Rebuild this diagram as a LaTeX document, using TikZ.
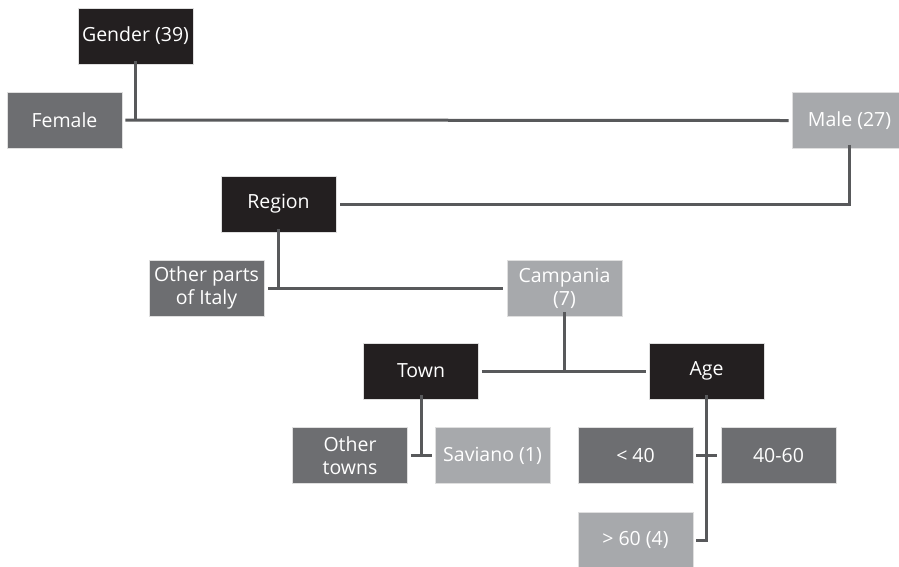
\documentclass[tikz,border=0pt]{standalone}
\usepackage{fontspec}
\setmainfont{Open Sans}
\definecolor{boxdark}{HTML}{231F20}
\definecolor{boxmid}{HTML}{6D6E71}
\definecolor{boxlight}{HTML}{A7A9AC}
\definecolor{linkgray}{HTML}{58595B}
\begin{document}
\begin{tikzpicture}[x=1pt, y=-1pt,
  box/.style={minimum width=115pt, minimum height=56pt, inner sep=0pt, align=center,
    text=white, draw=white!75!gray, line width=0.6pt,
    font=\fontsize{19.5}{23}\selectfont},
  dark/.style={box, fill=boxdark},
  mid/.style={box, fill=boxmid},
  light/.style={box, fill=boxlight},
  conn/.style={draw=linkgray, line width=3pt}]
\useasboundingbox (0,0) rectangle (899,566);

% Define the boxes
\node[dark]  (gender)  at (135.5,36)  {Gender (39)};
\node[mid]   (female)  at (64.5,120)  {Female};
\node[light] (male)    at (849.5,120.5) {Male (27)};
\node[dark]  (region)  at (278.5,204) {Region};
\node[mid]   (italy)   at (206.5,288) {Other parts\\of Italy};
\node[light] (campania) at (564.5,288) {Campania\\(7)};
\node[dark]  (town)    at (421,371)   {Town};
\node[dark]  (age)     at (706.5,371) {Age};
\node[mid]   (towns)   at (350,455.5) {Other\\towns};
\node[light] (saviano) at (492.5,455.5) {Saviano (1)};
\node[mid]   (young)   at (635.5,455.5) {< 40};
\node[mid]   (middle)  at (778.5,455.5) {40-60};
\node[light] (old)     at (635.5,540) {> 60 (4)};

% Draw the links of gender
\draw[conn] ([yshift=3pt]gender.south) -- (gender.south |- female.east);
\draw[conn] ([xshift=3pt]female.east) -- ([xshift=-3pt]male.west);

% Draw the links of region
\draw[conn] ([yshift=4pt]male.south) |- ([xshift=4pt]region.east);
\draw[conn] ([yshift=3pt]region.south) -- (region.south |- italy.east);
\draw[conn] ([xshift=4pt]italy.east) -- ([xshift=-4pt]campania.west);

% Draw the links of campania
\draw[conn] ([yshift=4pt]campania.south) -- (campania.south |- town.east);
\draw[conn] ([xshift=3pt]town.east) -- ([xshift=-3pt]age.west);

% Draw the links of town
\draw[conn] ([yshift=4pt]town.south) -- (town.south |- towns.east);
\draw[conn] ([xshift=3pt]towns.east) -- ([xshift=-3pt]saviano.west);

% Draw the links of age
\draw[conn] ([yshift=4pt]age.south) -- (age.south |- old.east) -- ([xshift=3pt]old.east);
\draw[conn] ([xshift=3pt]young.east) -- ([xshift=-4pt]middle.west);
\end{tikzpicture}
\end{document}
